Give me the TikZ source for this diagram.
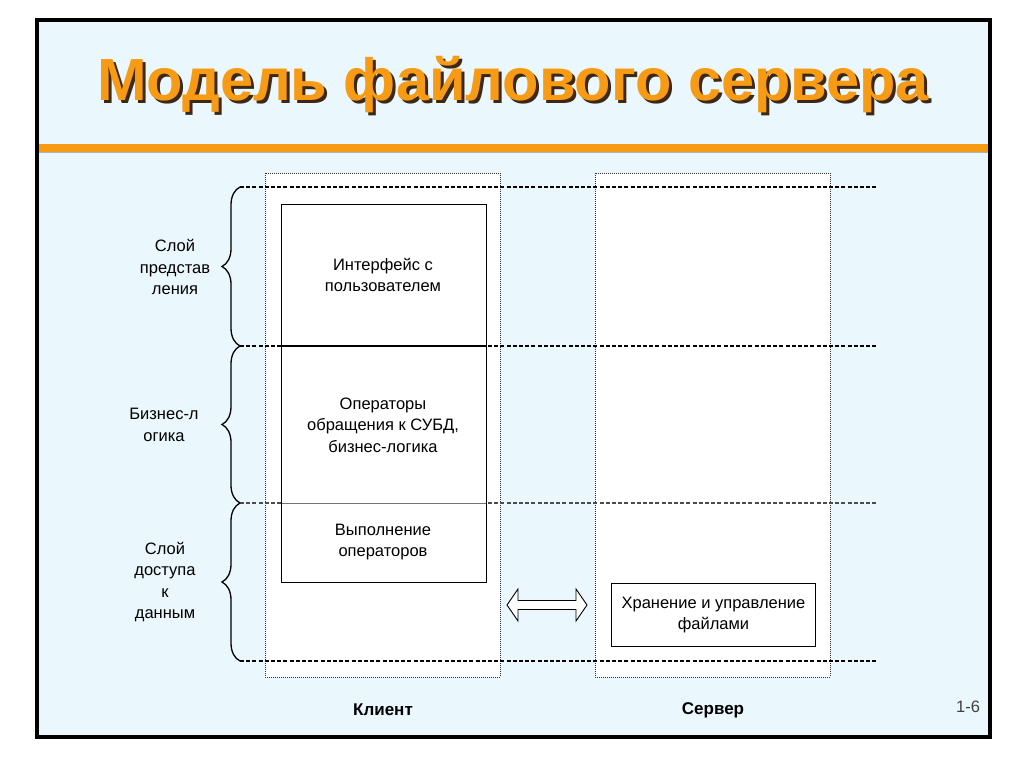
\documentclass[tikz,border=0pt]{standalone}
\usepackage{fontspec}
\setmainfont{Liberation Sans}
\usetikzlibrary{decorations.pathreplacing}
\definecolor{bgblue}{RGB}{234,247,252}
\definecolor{orng}{RGB}{247,154,20}
\definecolor{shadowc}{RGB}{60,40,20}
\newcommand{\titletext}{Модель файлового сервера}
\tikzset{
  lbl/.style={align=center, font=\fontsize{16.5}{21.5}\selectfont, inner sep=0pt},
  bold/.style={font=\fontsize{17}{20}\selectfont\bfseries, inner sep=0pt},
  dashln/.style={line width=1.1pt, dash pattern=on 4pt off 2.2pt},
  dotcol/.style={draw=black!80, line width=0.7pt, dash pattern=on 0.9pt off 1.1pt, fill=white},
  solidbox/.style={draw=black, line width=0.9pt},
  bracest/.style={decorate, decoration={brace, amplitude=18pt}, line width=1.3pt},
}
\begin{document}
\begin{tikzpicture}[x=1pt,y=-1pt]
\useasboundingbox (0,0) rectangle (1024,767);
\fill[white] (0,0) rectangle (1024,767);
% frame
\draw[line width=3.2pt, fill=bgblue] (37,20) rectangle (990,737);
% title with shadow
\node[inner sep=0pt, font=\fontsize{59.5}{62}\selectfont\bfseries] (title) at (513,86)
  {\makebox[0pt][l]{\hspace{3pt}\raisebox{-3pt}{\color{shadowc}\titletext}}\color{orng}\titletext};
% orange bar
\fill[black!30] (38.6,148) rectangle (988.4,153.5);
\fill[orng] (38.6,144) rectangle (988.4,152);
% columns
\draw[dotcol] (265,173) rectangle (500,677);
\draw[dotcol] (595,173) rectangle (830,677);
% dashed layer lines
\coordinate (l0a) at (240,187); \coordinate (l0b) at (877,187);
\coordinate (l1a) at (240,346); \coordinate (l1b) at (877,346);
\coordinate (l2a) at (240,503); \coordinate (l2b) at (877,503);
\coordinate (l3a) at (240,661); \coordinate (l3b) at (877,661);
\draw[dashln] (l0a) -- (l0b);
\draw[dashln] (l1a) -- (l1b);
\draw[dashln, draw=black!70] (l2a) -- (l2b);
\draw[dashln] (l3a) -- (l3b);
% client box
\node[solidbox, fill=white, minimum width=205pt, minimum height=378pt, inner sep=0pt, anchor=north west] (client) at (281,204) {};
\draw[line width=1.1pt] (client.west |- l1a) -- (client.east |- l1a);
\draw[line width=0.8pt, draw=black!55] (client.west |- l2a) -- (client.east |- l2a);
\draw[solidbox] (client.north west) rectangle (client.south east);
\node[lbl] (iface) at (383,275) {Интерфейс с\\пользователем};
\node[lbl] (ops) at (383,425) {Операторы\\обращения к СУБД,\\бизнес-логика};
\node[lbl] (exec) at (383,542) {Выполнение\\операторов};
% braces
\draw[bracest] (l1a) -- (l0a);
\draw[bracest] (l2a) -- (l1a);
\draw[bracest] (l3a) -- (l2a);
\node[lbl] (layer1) at (175,267) {Слой\\представ\\ления};
\node[lbl] (layer2) at (164,425) {Бизнес-л\\огика};
\node[lbl] (layer3) at (165,582) {Слой\\доступа\\к\\данным};
% server box
\node[solidbox, fill=white, minimum width=204pt, minimum height=63pt, inner sep=0pt, anchor=north west] (server) at (611,583) {};
\node[lbl] (storage) at (server.center) {Хранение и управление\\файлами};
% double arrow
\draw[line width=0.9pt, fill=white, line join=miter]
  (507,605) -- (518,589) -- (518,600.5) -- (576,600.5) -- (576,589) -- (587,605)
  -- (576,621) -- (576,609.5) -- (518,609.5) -- (518,621) -- cycle;
% bottom labels
\node[bold] (klient) at (383,710) {Клиент};
\node[bold] (serverlbl) at (713,710) {Сервер};
\node[lbl, text=black!75] (pagenum) at (968,707) {1-6};
\end{tikzpicture}
\end{document}
